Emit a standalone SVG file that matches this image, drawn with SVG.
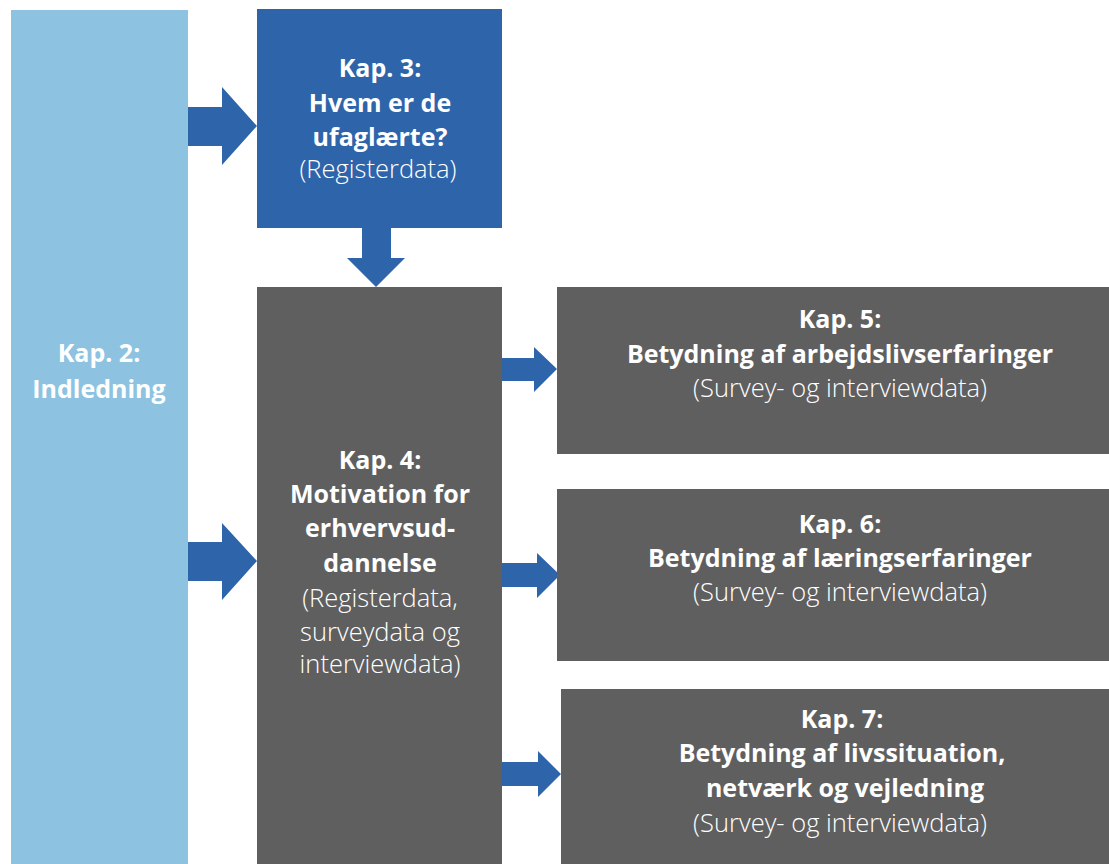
<svg xmlns="http://www.w3.org/2000/svg" width="1109" height="864" viewBox="0 0 1109 864">
<style>
.lb{fill:#8dc3e1}
.bl{fill:#2e64aa}
.gr{fill:#5f5f5f}
.ar{fill:#2e64aa}
text{font-family:"Open Sans","Noto Sans",sans-serif;fill:#ffffff;text-anchor:middle}
.b{font-weight:700;font-size:25px}
.l{font-weight:300;font-size:25.5px}
</style>
<rect width="1109" height="864" fill="#ffffff"/>
<g id="connectors">
<polygon class="ar" points="188,107 222,107 222,87 257,126 222,165 222,146 188,146"/>
<polygon class="ar" points="188,542 222,542 222,523 257,561 222,600 222,581 188,581"/>
<polygon class="ar" points="362,228 391,228 391,258 405,258 376,287 347,258 362,258"/>
<polygon class="ar" points="502,358 534,358 534,347 557,369 534,392 534,381 502,381"/>
<polygon class="ar" points="502,563 537,563 537,553 560,575 537,598 537,587 502,587"/>
<polygon class="ar" points="502,762 538,762 538,751 561,774 538,797 538,786 502,786"/>
</g>
<g id="kap2">
<rect class="lb" x="11" y="10" width="177" height="854"/>
<text class="b" x="99" y="362">Kap. 2:</text>
<text class="b" x="99" y="398">Indledning</text>
</g>
<g id="kap3">
<rect class="bl" x="257" y="9" width="245" height="219"/>
<text class="b" x="380" y="77">Kap. 3:</text>
<text class="b" x="380" y="112">Hvem er de</text>
<text class="b" x="380" y="146">ufaglærte?</text>
<text class="l" x="378" y="178">(Registerdata)</text>
</g>
<g id="kap4">
<rect class="gr" x="257" y="287" width="245" height="577"/>
<text class="b" x="380" y="469">Kap. 4:</text>
<text class="b" x="380" y="503">Motivation for</text>
<text class="b" x="380" y="537">erhvervsud-</text>
<text class="b" x="380" y="572">dannelse</text>
<text class="l" x="380" y="607">(Registerdata,</text>
<text class="l" x="380" y="641">surveydata og</text>
<text class="l" x="380" y="673">interviewdata)</text>
</g>
<g id="kap5">
<rect class="gr" x="557" y="287" width="552" height="167"/>
<text class="b" x="840" y="328">Kap. 5:</text>
<text class="b" x="840" y="363">Betydning af arbejdslivserfaringer</text>
<text class="l" x="840" y="397">(Survey- og interviewdata)</text>
</g>
<g id="kap6">
<rect class="gr" x="557" y="489" width="552" height="172"/>
<text class="b" x="840" y="533">Kap. 6:</text>
<text class="b" x="840" y="567">Betydning af læringserfaringer</text>
<text class="l" x="840" y="601">(Survey- og interviewdata)</text>
</g>
<g id="kap7">
<rect class="gr" x="561" y="689" width="548" height="175"/>
<text class="b" x="842" y="728">Kap. 7:</text>
<text class="b" x="842" y="762">Betydning af livssituation,</text>
<text class="b" x="845" y="797">netværk og vejledning</text>
<text class="l" x="840" y="832">(Survey- og interviewdata)</text>
</g>
</svg>
